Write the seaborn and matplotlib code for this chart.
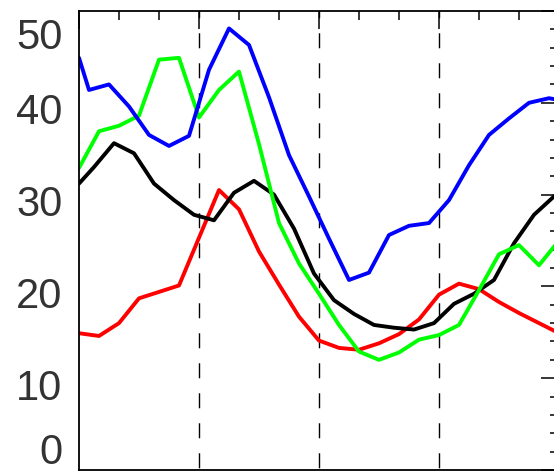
import numpy as np
import matplotlib
matplotlib.use("Agg")
import matplotlib.pyplot as plt
import matplotlib.transforms as mtransforms
import seaborn as sns

# time axis (0..24), each series sampled on its own grid
x_blue = [0] + [k + 0.5 for k in range(24)] + [24]
blue = [44.9, 41.4, 42.0, 39.6, 36.5, 35.3, 36.4, 43.6, 48.1, 46.3, 40.6, 34.3,
        29.8, 25.2, 20.7, 21.5, 25.6, 26.6, 26.9, 29.4, 33.2, 36.5, 38.3, 40.0,
        40.5, 40.3]

x_green = list(range(25))
green = [32.9, 36.9, 37.5, 38.6, 44.7, 44.9, 38.4, 41.4, 43.4, 35.5, 26.9, 22.5,
         19.2, 15.8, 12.9, 12.0, 12.8, 14.2, 14.7, 15.8, 19.6, 23.5, 24.5, 22.3,
         25.0]

x_red = list(range(25))
red = [14.9, 14.6, 16.0, 18.7, 19.4, 20.1, 25.3, 30.5, 28.4, 23.8, 20.2, 16.7,
       14.1, 13.3, 13.1, 13.8, 14.8, 16.4, 19.1, 20.3, 19.7, 18.3, 17.1, 16.0,
       14.9]

x_black = [0] + [k + 0.75 for k in range(24)] + [24]
black = [31.2, 33.0, 35.6, 34.5, 31.2, 29.4, 27.8, 27.2, 30.2, 31.5, 30.0, 26.3,
         21.4, 18.5, 17.0, 15.8, 15.5, 15.3, 16.0, 18.1, 19.2, 20.7, 24.7, 27.8,
         29.8, 30.1]

dividers = [6, 12, 18]
y_ticks = [0, 10, 20, 30, 40, 50]
y_labels = ["0", "10", "20", "30", "40", "50"]

sns.set_style("white")
plt.rcParams["font.family"] = ["Liberation Sans", "DejaVu Sans"]

fig = plt.figure(figsize=(5.54, 4.74), dpi=100)
ax = fig.add_axes([79 / 554, 4 / 474, 480 / 554, 459 / 474])

for xs, ys, col in [(x_red, red, "#ff0000"), (x_black, black, "black"),
                    (x_green, green, "#00ff00"), (x_blue, blue, "#0000ff")]:
    sns.lineplot(x=xs, y=ys, color=col, lw=2.8, ax=ax, legend=False)

for xv in dividers:
    ax.axvline(xv, color="black", lw=1.0, linestyle=(20, (10.8, 10.8)), zorder=0.5)

ax.set_xlim(0, 24)
ax.set_ylim(0, 50)
ax.set_xticks(range(0, 25, 6))
ax.set_xticks(range(0, 25, 2), minor=True)
ax.set_yticks(y_ticks)
ax.set_yticklabels(y_labels)
ax.set_yticks(range(0, 51, 2), minor=True)
ax.set_xlabel("")
ax.set_ylabel("")

ax.tick_params(which="both", direction="in", top=True, right=True,
               labelbottom=False, color="black")
ax.tick_params(which="major", length=13, width=1.1)
ax.tick_params(which="minor", length=6.5, width=1.1)
ax.tick_params(axis="y", labelsize=30, labelcolor="#333333", pad=12)

for sp in ax.spines.values():
    sp.set_color("black")
    sp.set_linewidth(1.3)

# nudge the y labels the way the original has them
shifts = [21, -6, -6, -6, -6, -23]
for lab, dy in zip(ax.get_yticklabels(), shifts):
    lab.set_transform(lab.get_transform() +
                      mtransforms.ScaledTranslation(0, dy / 100, fig.dpi_scale_trans))

fig.savefig("out.png", dpi=100)
